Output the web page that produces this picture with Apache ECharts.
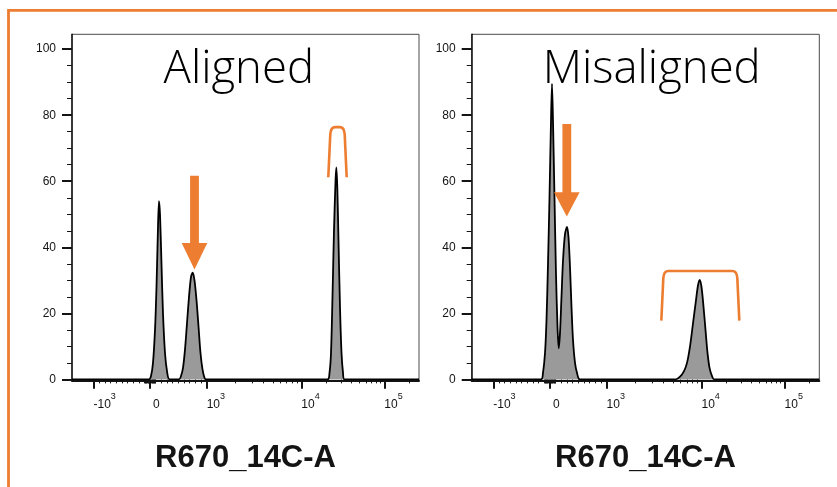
<!DOCTYPE html>
<html><head><meta charset="utf-8">
<script src="https://cdn.jsdelivr.net/npm/echarts@6/dist/echarts.min.js"></script>
<style>html,body{margin:0;padding:0;background:#fff}#c{width:837px;height:487px}</style>
</head><body><div id="c"></div>
<script>
// ---------- texts ----------
const panelTitles = ['Aligned', 'Misaligned'];
const axisTitle = 'R670_14C-A';

// ---------- x axis (biexponential display, channel units 0-1000) ----------
const decadeValues   = [-1000, 0, 1000, 10000, 100000];
const decadeChannels = [62, 225, 388, 661, 900];
const decadeLabels   = ['-10^3', '0', '10^3', '10^4', '10^5'];
const yTickValues    = [0, 20, 40, 60, 80, 100];

// ---------- histogram data (channel, count) ----------
const alignedX = [0, 221.9, 227.7, 233.4, 239.2, 243.5, 247.8, 250.7, 253.6, 257.9, 262.2, 268.0, 273.8, 281.0,
  308.4, 314.1, 319.9, 325.6, 331.4, 337.2, 342.9, 347.8, 353.0, 358.8, 364.6, 370.3, 376.1, 381.8, 386.2,
  736.3, 742.1, 746.4, 750.7, 755.0, 759.4, 761.7, 764.6, 768.0, 772.3, 776.7, 781.0, 785.3, 1000];
const alignedY = [0, 0, 1, 5, 15, 28, 46, 54, 50, 35, 20, 8, 2.5, 0,
  0, 1, 3.5, 9, 17, 25, 31, 32.3, 30, 24, 16, 8, 3, 0.5, 0,
  0, 2, 8, 25, 45, 60, 64.2, 58, 42, 22, 8, 2, 0, 0];

const misalignedX = [0, 199.4, 205.1, 210.9, 215.2, 219.5, 223.8, 228.1, 231.0, 233.9, 238.2, 242.5, 246.8, 250.3,
  254.0, 258.3, 262.7, 268.4, 274.2, 278.5, 282.8, 287.1, 291.4, 297.2, 302.9, 311.5,
  587.8, 599.3, 610.8, 619.4, 628.1, 636.7, 645.3, 651.1, 656.0, 661.1, 666.9, 672.6, 678.4, 684.2, 691.4, 697.1, 1000];
const misalignedY = [0, 0, 2, 8, 18, 35, 55, 78, 89.5, 78, 55, 32, 16, 9.4,
  14, 25, 36, 44, 46.2, 43, 34, 22, 12, 5, 2, 0,
  0, 0.8, 2.5, 5, 10, 17, 24, 28.5, 30.1, 28, 22, 15, 8, 3.5, 1, 0, 0];

// ---------- annotations (data coordinates) ----------
// arrow: [channel, shaftTop, headTop, tip]
const arrowAligned    = [353.0, 61.7, 41.3, 33.3];
const arrowMisaligned = [273.6, 77.3, 56.7, 49.3];
// gate bracket: [channelLeft, channelRight, top, legBottom]
const gateAligned    = [738.6, 791.6, 76.4, 61.2];
const gateMisaligned = [545.5, 769.9, 32.8, 17.8];

// ---------- scale helpers ----------
function chan(v) {
  if (Math.abs(v) <= 1000) return 225 + v * 0.163;
  const s = Math.sign(v), a = Math.abs(v);
  if (s > 0) {
    if (a <= 1e4) return 388 + Math.log10(a / 1e3) * 273;
    if (a <= 1e5) return 661 + Math.log10(a / 1e4) * 239;
    return 900 + Math.log10(a / 1e5) * 239;
  }
  return 62 - Math.log10(a / 1e3) * 273;
}
const minorTicks = [];
[10, 20, 30, 40, 50, 60, 70, 80, 90, 100, 200, 300, 400, 500, 600, 700, 800, 900].forEach(v => { minorTicks.push(chan(v), chan(-v)); });
[2, 3, 4, 5, 6, 7, 8, 9].forEach(m => { minorTicks.push(chan(m * 1e3), chan(m * 1e4)); });
[2].forEach(m => minorTicks.push(chan(m * 1e5)));
const minorY = [];
for (let v = 0; v <= 100; v += 5) minorY.push(v);

function fmtLabel(v) {
  let i = decadeChannels.indexOf(v);
  if (i < 0) { let best = 0; decadeChannels.forEach((c, k) => { if (Math.abs(c - v) < Math.abs(decadeChannels[best] - v)) best = k; }); i = best; }
  const t = decadeLabels[i];
  if (t.indexOf('^') < 0) return '{z|' + t + '}';
  const p = t.split('^');
  return '{b|' + p[0] + '}{s|' + p[1] + '}';
}

const FONT = '"Liberation Sans", Arial, Helvetica, sans-serif';
const INK = '#141414';
const ORANGE = '#ED7D31';
const grids = [
  { left: 72, top: 34.3, width: 347, height: 346.4 },
  { left: 471.7, top: 34.3, width: 347.6, height: 346.4 }
];

const xAxes = [], yAxes = [];
grids.forEach((g, gi) => {
  xAxes.push({
    type: 'value', gridIndex: gi, min: 0, max: 1000, position: 'bottom',
    axisLine: { show: true, onZero: false, lineStyle: { color: INK, width: 2 } },
    axisTick: { show: true, customValues: decadeChannels, length: 8, lineStyle: { color: INK, width: 2 } },
    axisLabel: {
      show: true, customValues: decadeChannels, formatter: fmtLabel, align: 'left', margin: 11,
      color: INK, fontFamily: FONT,
      rich: {
        b: { fontSize: 12, lineHeight: 19, verticalAlign: 'bottom', color: INK, fontFamily: FONT },
        s: { fontSize: 9, lineHeight: 19, verticalAlign: 'top', color: INK, fontFamily: FONT },
        z: { fontSize: 12, lineHeight: 19, verticalAlign: 'bottom', color: INK, fontFamily: FONT, padding: [0, 0, 0, 3] }
      }
    },
    splitLine: { show: false },
    name: axisTitle, nameLocation: 'middle', nameGap: 62,
    nameTextStyle: { fontSize: 31, fontWeight: 'bold', color: INK, fontFamily: FONT }
  });
  xAxes.push({
    type: 'value', gridIndex: gi, min: 0, max: 1000, position: 'bottom',
    axisLine: { show: false },
    axisTick: { show: true, customValues: minorTicks, length: 4, lineStyle: { color: INK, width: 1 } },
    axisLabel: { show: false }, splitLine: { show: false }
  });
  yAxes.push({
    type: 'value', gridIndex: gi, min: -0.4, max: 104.5, position: 'left',
    axisLine: { show: true, onZero: false, lineStyle: { color: INK, width: 1.5 } },
    axisTick: { show: true, customValues: yTickValues, length: 10, lineStyle: { color: INK, width: 2 } },
    axisLabel: { show: true, customValues: yTickValues, margin: 16, fontSize: 12, color: INK, fontFamily: FONT },
    splitLine: { show: false }
  });
  yAxes.push({
    type: 'value', gridIndex: gi, min: -0.4, max: 104.5, position: 'left',
    axisLine: { show: false },
    axisTick: { show: true, customValues: minorY, length: 5, lineStyle: { color: INK, width: 1 } },
    axisLabel: { show: false }, splitLine: { show: false }
  });
});

function zip(a, b) { return a.map((v, i) => [v, b[i]]); }

function histSeries(xs, ys, gi) {
  return {
    type: 'line', xAxisIndex: gi * 2, yAxisIndex: gi * 2, data: zip(xs, ys),
    smooth: 0.3, symbol: 'none', silent: true,
    lineStyle: { color: '#000', width: 1.8 },
    areaStyle: { color: '#9a9a9a', opacity: 1 }, z: 3
  };
}

function arrowSeries(a, gi) {
  return {
    type: 'custom', xAxisIndex: gi * 2, yAxisIndex: gi * 2, data: [a], clip: false, silent: true, z: 6,
    encode: { x: 0, y: 1 },
    renderItem: function (params, api) {
      const x = api.value(0);
      const pT = api.coord([x, api.value(1)]);
      const pH = api.coord([x, api.value(2)]);
      const pP = api.coord([x, api.value(3)]);
      const sw = 4.4, hw = 12.8, cx = pT[0];
      return {
        type: 'polygon',
        shape: { points: [[cx - sw, pT[1]], [cx + sw, pT[1]], [cx + sw, pH[1]], [cx + hw, pH[1]], [cx, pP[1]], [cx - hw, pH[1]], [cx - sw, pH[1]]] },
        style: { fill: ORANGE }
      };
    }
  };
}

function gateSeries(g, gi) {
  return {
    type: 'custom', xAxisIndex: gi * 2, yAxisIndex: gi * 2, data: [g], clip: false, silent: true, z: 6,
    encode: { x: [0, 1], y: [2, 3] },
    renderItem: function (params, api) {
      const l = api.coord([api.value(0), api.value(3)]);
      const t = api.coord([api.value(0), api.value(2)]);
      const r = api.coord([api.value(1), api.value(3)]);
      const x1 = l[0], x2 = r[0], yb = l[1], yt = t[1];
      const d = 'M' + x1 + ' ' + yb + ' L' + (x1 + 2) + ' ' + (yt + 7) +
        ' Q' + (x1 + 2.5) + ' ' + yt + ' ' + (x1 + 7) + ' ' + yt +
        ' L' + (x2 - 7) + ' ' + yt +
        ' Q' + (x2 - 2.5) + ' ' + yt + ' ' + (x2 - 2) + ' ' + (yt + 7) +
        ' L' + x2 + ' ' + yb;
      return { type: 'path', shape: { pathData: d }, style: { stroke: ORANGE, lineWidth: 2.6, fill: null } };
    }
  };
}

const chart = echarts.init(document.getElementById('c'), null, { renderer: 'canvas' });
chart.setOption({
  animation: false,
  backgroundColor: '#ffffff',
  grid: grids.map(g => Object.assign({ show: true, borderColor: '#4a4a4a', borderWidth: 1, backgroundColor: 'transparent', containLabel: false }, g)),
  xAxis: xAxes,
  yAxis: yAxes,
  series: [
    histSeries(alignedX, alignedY, 0),
    histSeries(misalignedX, misalignedY, 1),
    arrowSeries(arrowAligned, 0),
    arrowSeries(arrowMisaligned, 1),
    gateSeries(gateAligned, 0),
    gateSeries(gateMisaligned, 1)
  ],
  graphic: [
    { type: 'polyline', z: 100, shape: { points: [[8.5, 495], [8.5, 10.3], [845, 10.3]] }, style: { stroke: ORANGE, lineWidth: 2.8, fill: null } },
    { type: 'text', x: 238.8, y: 70, z: 100, style: { text: panelTitles[0], font: '300 45.5px "Open Sans"', fill: '#000', textAlign: 'center', textVerticalAlign: 'middle' } },
    { type: 'text', x: 651.7, y: 70, z: 100, style: { text: panelTitles[1], font: '300 45.5px "Open Sans"', fill: '#000', textAlign: 'center', textVerticalAlign: 'middle' } }
  ]
});
</script>
</body></html>
